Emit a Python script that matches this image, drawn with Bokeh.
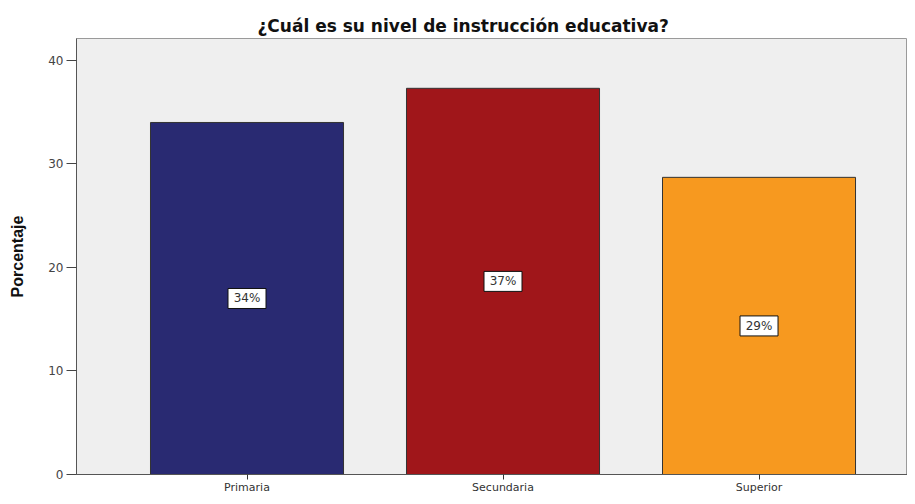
from bokeh.plotting import figure
from bokeh.models import ColumnDataSource, FixedTicker, Range1d, Title
from bokeh.core.properties import value
from bokeh.embed import file_html
from bokeh.resources import INLINE

categories = ["Primaria", "Secundaria", "Superior"]
percentages = [34.0, 37.3, 28.7]
bar_labels = ["34%", "37%", "29%"]
colors = ["#292A72", "#A0161A", "#F7991F"]
y_ticks = [0, 10, 20, 30, 40]

xs = list(range(1, len(categories) + 1))
src = ColumnDataSource(dict(
    x=xs, top=percentages, mid=[v / 2 for v in percentages],
    lab=bar_labels, color=colors,
))

p = figure(width=907, height=496, output_backend="svg", toolbar_location=None,
           x_range=Range1d(0.334, 3.58), y_range=Range1d(0, 42.11),
           min_border_left=76, min_border_right=0, min_border_top=38,
           min_border_bottom=19, background_fill_color="#EFEFEF",
           border_fill_color="white", outline_line_color="#9A9A9A")

title = Title(text="¿Cuál es su nivel  de instrucción educativa?", align="left",
              offset=181, text_font="DejaVu Sans", text_font_size="17px",
              text_font_style="bold", text_color="#111111", standoff=6)
p.add_layout(title, "above")

p.vbar(x="x", top="top", width=0.754, bottom=0, source=src, fill_color="color",
       line_color="#333333", line_width=1)

p.rect(x="x", y="mid", width=38, height=20, width_units="screen", height_units="screen",
       source=src, fill_color="white", line_color="#111111", line_width=1)
p.text(x="x", y="mid", text="lab", source=src, text_align="center", text_baseline="middle",
       text_font=value("DejaVu Sans"), text_font_size="12px", text_color="#333333")

p.xgrid.visible = False
p.ygrid.visible = False

xa = p.xaxis[0]
xa.ticker = FixedTicker(ticks=xs)
xa.major_label_overrides = {x: c for x, c in zip(xs, categories)}
xa.major_tick_in = 0
xa.major_tick_out = 5
xa.minor_tick_line_color = None
xa.axis_line_color = "#555555"
xa.major_tick_line_color = "#333333"
xa.major_label_standoff = 1
xa.major_label_text_font = "DejaVu Sans"
xa.major_label_text_font_size = "11px"
xa.major_label_text_color = "#333333"

ya = p.yaxis[0]
ya.ticker = FixedTicker(ticks=y_ticks)
ya.major_tick_in = 0
ya.major_tick_out = 10
ya.minor_tick_line_color = None
ya.axis_line_color = "#555555"
ya.major_tick_line_color = "#444444"
ya.major_label_standoff = 3
ya.major_label_text_font = "DejaVu Sans"
ya.major_label_text_font_size = "12px"
ya.major_label_text_color = "#444444"
ya.axis_label = "Porcentaje"
ya.axis_label_text_font = "Liberation Sans"
ya.axis_label_text_font_size = "16px"
ya.axis_label_text_font_style = "bold"
ya.axis_label_text_color = "#111111"
ya.axis_label_standoff = 19

open("out.html", "w").write(file_html(p, INLINE))
